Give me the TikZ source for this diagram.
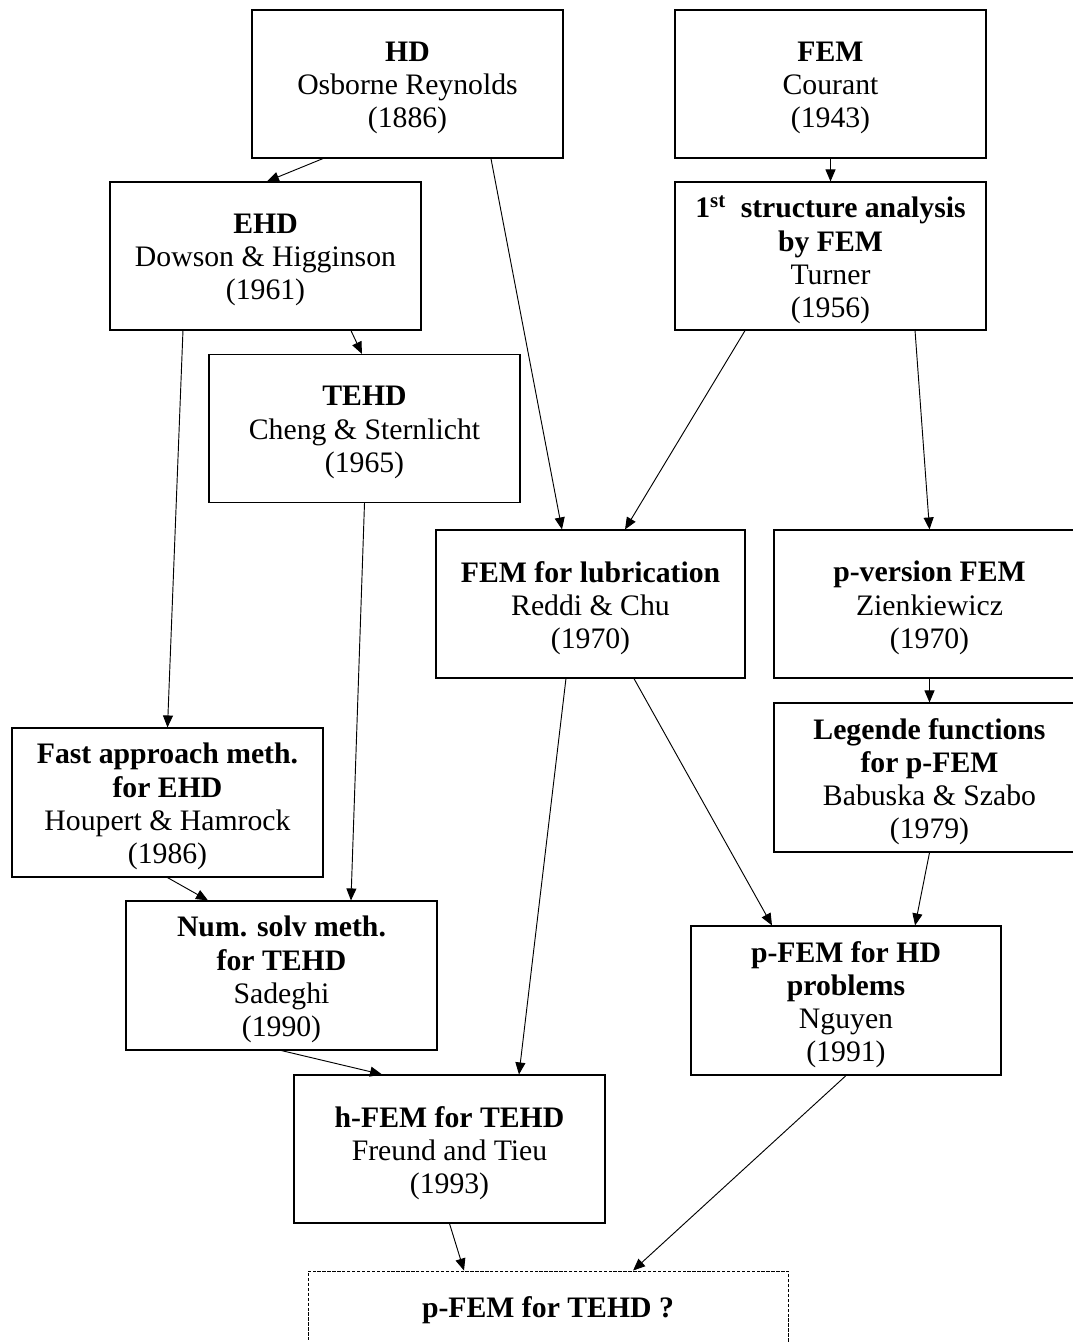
\documentclass[tikz,border=0pt]{standalone}
\usepackage{fontspec}
\setmainfont{Liberation Serif}
\usetikzlibrary{arrows.meta}
\begin{document}
\begin{tikzpicture}[x=0.75pt,y=-0.75pt,
  box/.style={draw, rectangle, line width=0.85pt, minimum width=233.25pt, minimum height=111pt, inner sep=0pt},
  txt/.style={align=center, inner sep=0pt, yshift=-3pt, font=\fontsize{22.3}{24.9}\selectfont},
  qbox/.style={box, dash pattern=on 2.5pt off 1.2pt, line width=0.7pt, minimum width=360pt, minimum height=55.5pt},
  conn/.style={line width=0.7pt, -{Triangle[length=9pt,width=7.5pt]}}]
\useasboundingbox (0,0) rectangle (1072,1342);
\node[box, label={[txt]center:\textbf{HD}\\Osborne Reynolds\\(1886)}] (hd) at (407.5,84) {};
\node[box, label={[txt]center:\textbf{FEM}\\Courant\\(1943)}] (fem) at (830.5,84) {};
\node[box, label={[txt]center:\textbf{EHD}\\Dowson \& Higginson\\(1961)}] (ehd) at (265.5,256) {};
\node[box, label={[txt]center:\textbf{1\textsuperscript{st}~ structure analysis}\\\textbf{by FEM}\\Turner\\(1956)}] (fst) at (830.5,256) {};
\node[box, label={[txt]center:\textbf{TEHD}\\Cheng \& Sternlicht\\(1965)}] (tehd) at (364.5,428.5) {};
\node[box, minimum width=231.75pt, label={[txt]center:\textbf{FEM for lubrication}\\Reddi \& Chu\\(1970)}] (lub) at (590.5,604) {};
\node[box, label={[txt]center:\textbf{p-version FEM}\\Zienkiewicz\\(1970)}] (pver) at (929.5,604) {};
\node[box, minimum height=111.75pt, label={[txt]center:\textbf{Legende functions}\\\textbf{for p-FEM}\\Babuska \& Szabo\\(1979)}] (leg) at (929.5,777.5) {};
\node[box, minimum height=111.75pt, label={[txt]center:\textbf{Fast approach meth.}\\\textbf{for EHD}\\Houpert \& Hamrock\\(1986)}] (fast) at (167.5,802.5) {};
\node[box, minimum height=111.75pt, label={[txt]center:\textbf{Num. solv meth.}\\\textbf{for TEHD}\\Sadeghi\\(1990)}] (num) at (281.5,975.5) {};
\node[box, minimum width=232.5pt, minimum height=111.75pt, label={[txt]center:\textbf{p-FEM for HD}\\\textbf{problems}\\Nguyen\\(1991)}] (pfhd) at (846,1000.5) {};
\node[box, label={[txt]center:\textbf{h-FEM for TEHD}\\Freund and Tieu\\(1993)}] (hfem) at (449.5,1149) {};
\node[qbox, label={[txt, yshift=1.5pt]center:\textbf{p-FEM for TEHD ?}}] (ptehd) at (548,1308) {};
\draw[conn] ([xshift=-63.4pt]hd.south) -- ([xshift=1.1pt]ehd.north);
\draw[conn] ([xshift=62.6pt]hd.south) -- ([xshift=-21.4pt]lub.north);
\draw[conn] (fem.south) -- (fst.north);
\draw[conn] ([xshift=64.1pt]ehd.south) -- ([xshift=-1.9pt]tehd.north);
\draw[conn] ([xshift=-61.9pt]ehd.south) -- (fast.north);
\draw[conn] ([xshift=-64.1pt]fst.south) -- ([xshift=25.9pt]lub.north);
\draw[conn] ([xshift=63.4pt]fst.south) -- (pver.north);
\draw[conn] (tehd.south) -- ([xshift=52.1pt]num.north);
\draw[conn] ([xshift=-18.4pt]lub.south) -- ([xshift=52.1pt]hfem.north);
\draw[conn] ([xshift=32.6pt]lub.south) -- ([xshift=-55.5pt]pfhd.north);
\draw[conn] (pver.south) -- (leg.north);
\draw[conn] (leg.south) -- ([xshift=51.8pt]pfhd.north);
\draw[conn] (fast.south) -- ([xshift=-55.1pt]num.north);
\draw[conn] (num.south) -- ([xshift=-50.6pt]hfem.north);
\draw[conn] (pfhd.south) -- ([xshift=63.8pt]ptehd.north);
\draw[conn] (hfem.south) -- ([xshift=-63pt]ptehd.north);
\end{tikzpicture}
\end{document}
